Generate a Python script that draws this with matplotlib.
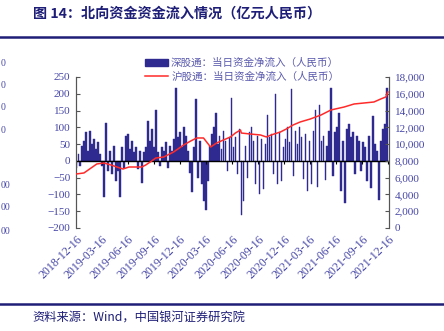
import numpy as np
import pandas as pd
import matplotlib
matplotlib.use("Agg")
import matplotlib.pyplot as plt
from matplotlib.ticker import FuncFormatter, MultipleLocator
from matplotlib.patches import Patch
from matplotlib.lines import Line2D

plt.rcParams['font.family'] = ['Noto Sans CJK SC', 'DejaVu Sans']

# weekly net inflow, 深股通 (left axis, 亿元)
sz_flow = [-20, 20, -15, 45, 60, 85, 30, 88, 50, 65, 35, 55, 20, -15,
           -109, 113, -30, 30, -40, 45, -60, -30, -109, 40, -20, 75, 80, 35,
           60, 25, 40, -25, 30, -67, 25, 40, 120, 60, 95, 40, 153, 25,
           -15, 40, 30, 55, -20, 45, 30, 65, 218, 70, 85, 40, 100, 75,
           30, -35, -92, 40, 183, -50, 60, -70, -120, -147, -60, 45, 80, 100,
           143, 50, 75, 35, 90, 60, -30, 70, 188, 40, 70, -40, 95, -161,
           -120, 45, -50, 85, 100, 60, -70, 75, -100, 65, -85, 50, 138, 70,
           80, -40, 198, -70, 85, -60, 40, 65, 100, 55, 213, -45, 90, 50,
           100, 70, -55, 80, -90, 60, -70, 90, 153, -77, 168, 60, 75, -57,
           45, 90, 217, -45, 85, 100, 143, -90, 60, -127, 95, 110, 70, 85,
           -40, 75, 60, -30, 55, 40, -60, 75, -80, 133, 50, 30, -117, 60,
           95, 110, 217]
bar_dates = pd.date_range('2018-12-17', periods=len(sz_flow), freq='7D')

# cumulative 沪股通 (right axis, 亿元)
hk_dates = pd.to_datetime([
    '2018-12-17', '2019-01-13', '2019-02-27', '2019-03-24', '2019-04-18',
    '2019-05-09', '2019-05-30', '2019-06-20', '2019-07-14', '2019-08-04',
    '2019-08-18', '2019-09-08', '2019-09-22', '2019-10-20', '2019-11-24',
    '2019-12-29', '2020-01-23', '2020-02-13', '2020-03-08', '2020-03-19',
    '2020-04-02', '2020-04-23', '2020-05-17', '2020-06-11', '2020-06-28',
    '2020-07-16', '2020-07-19', '2020-08-20', '2020-09-24', '2020-10-15',
    '2020-11-01', '2020-12-03', '2020-12-24', '2021-01-17', '2021-02-11',
    '2021-03-18', '2021-04-25', '2021-05-30', '2021-07-15', '2021-08-19',
    '2021-09-23', '2021-10-28', '2021-11-21', '2021-12-09', '2021-12-16'])
hk_cum = [6440, 6560, 7630, 7750, 7510,
          7270, 7030, 7270, 7270, 7270,
          7510, 7990, 8340, 8460, 9060,
          9890, 10370, 10730, 10730, 10250,
          9650, 10130, 10490, 10850, 11320,
          11680, 11320, 11200, 11090, 10850,
          11090, 11440, 11800, 12280, 12640,
          12990, 13470, 14070, 14420, 14780,
          14900, 15020, 15380, 15620, 16210]

tick_dates = pd.date_range('2018-12-16', periods=13, freq=pd.DateOffset(months=3))
tick_labels = [d.strftime('%Y-%m-%d') for d in tick_dates]

navy = '#2E2A8F'
lab = '#4646A8'
dark = '#1E1E78'
red = '#FF2A2A'

fig = plt.figure(figsize=(4.44, 3.31), dpi=100)
ax = fig.add_axes([0.1712, 0.3112, 0.705, 0.4562])
ax2 = ax.twinx()

ax.bar(bar_dates, sz_flow, width=5.5, color=navy, edgecolor=navy,
       linewidth=0.3, zorder=2)
ax.axhline(0, color='black', lw=1, zorder=3)
ax.plot(tick_dates, np.zeros(len(tick_dates)), ls='none', marker=3,
        ms=2.5, mew=0.8, color='black', zorder=3)
ax2.plot(hk_dates, hk_cum, color=red, lw=1.1, zorder=4)

ax.set_zorder(ax2.get_zorder() - 1)
ax.patch.set_visible(False)

ax.set_ylim(-200, 250)
ax.yaxis.set_major_locator(MultipleLocator(50))
ax2.set_ylim(0, 18000)
ax2.yaxis.set_major_locator(MultipleLocator(2000))
ax2.yaxis.set_major_formatter(FuncFormatter(lambda v, p: f'{int(v):,}'))

ax.set_xlim(pd.Timestamp('2018-12-16'), pd.Timestamp('2021-12-20'))
ax.set_xticks(tick_dates)
ax.set_xticklabels(tick_labels, rotation=45, ha='right', rotation_mode='anchor',
                   fontsize=8.6, color=lab, family='Liberation Serif')
ax.tick_params(axis='x', length=0, pad=4)

for a in (ax, ax2):
    for s in ('top', 'bottom'):
        a.spines[s].set_visible(False)
    a.spines['left'].set_color('#555555')
    a.spines['right'].set_color('#555555')
ax.tick_params(axis='y', direction='in', length=3, color='#555555',
               labelsize=8, labelcolor=lab, pad=4)
ax2.tick_params(axis='y', direction='in', length=3, color='#555555',
                labelsize=8, labelcolor=lab, pad=4)
for t in ax.get_yticklabels() + ax2.get_yticklabels():
    t.set_family('Liberation Serif')

handles = [Patch(color=navy), Line2D([0], [0], color=red, lw=1.1)]
leg = ax.legend(handles, ['深股通：当日资金净流入（人民币）', '沪股通：当日资金净流入（人民币）'],
                loc='upper center', bbox_to_anchor=(0.53, 1.19), frameon=False,
                fontsize=7.6, handlelength=2.2, handleheight=0.6, labelspacing=0.3,
                handletextpad=0.3)
for t in leg.get_texts():
    t.set_color('#5A5AAE')

fig.text(0.074, 0.958, '图 14：北向资金资金流入情况（亿元人民币）', fontsize=10.2,
         fontweight='bold', color=dark, va='center')
fig.add_artist(Line2D([0, 1], [1 - 37 / 331] * 2, color=dark, lw=1.8))
fig.add_artist(Line2D([0, 1], [1 - 304 / 331] * 2, color=dark, lw=1.8))
fig.text(0.074, 1 - 318 / 331, '资料来源：Wind，中国银河证券研究院', fontsize=8.8,
         color=dark, va='center', style='italic')

# labels of the neighbouring chart peeking in at the left edge
for yy, s in [(63, '0'), (85, '0'), (108, '0'), (131, '0'),
              (185, '00'), (208, '00'), (231, '00')]:
    fig.text(0.001, 1 - yy / 331, s, ha='left', va='center', fontsize=7,
             color=lab, family='Liberation Serif')

fig.savefig('out.png', dpi=100)
